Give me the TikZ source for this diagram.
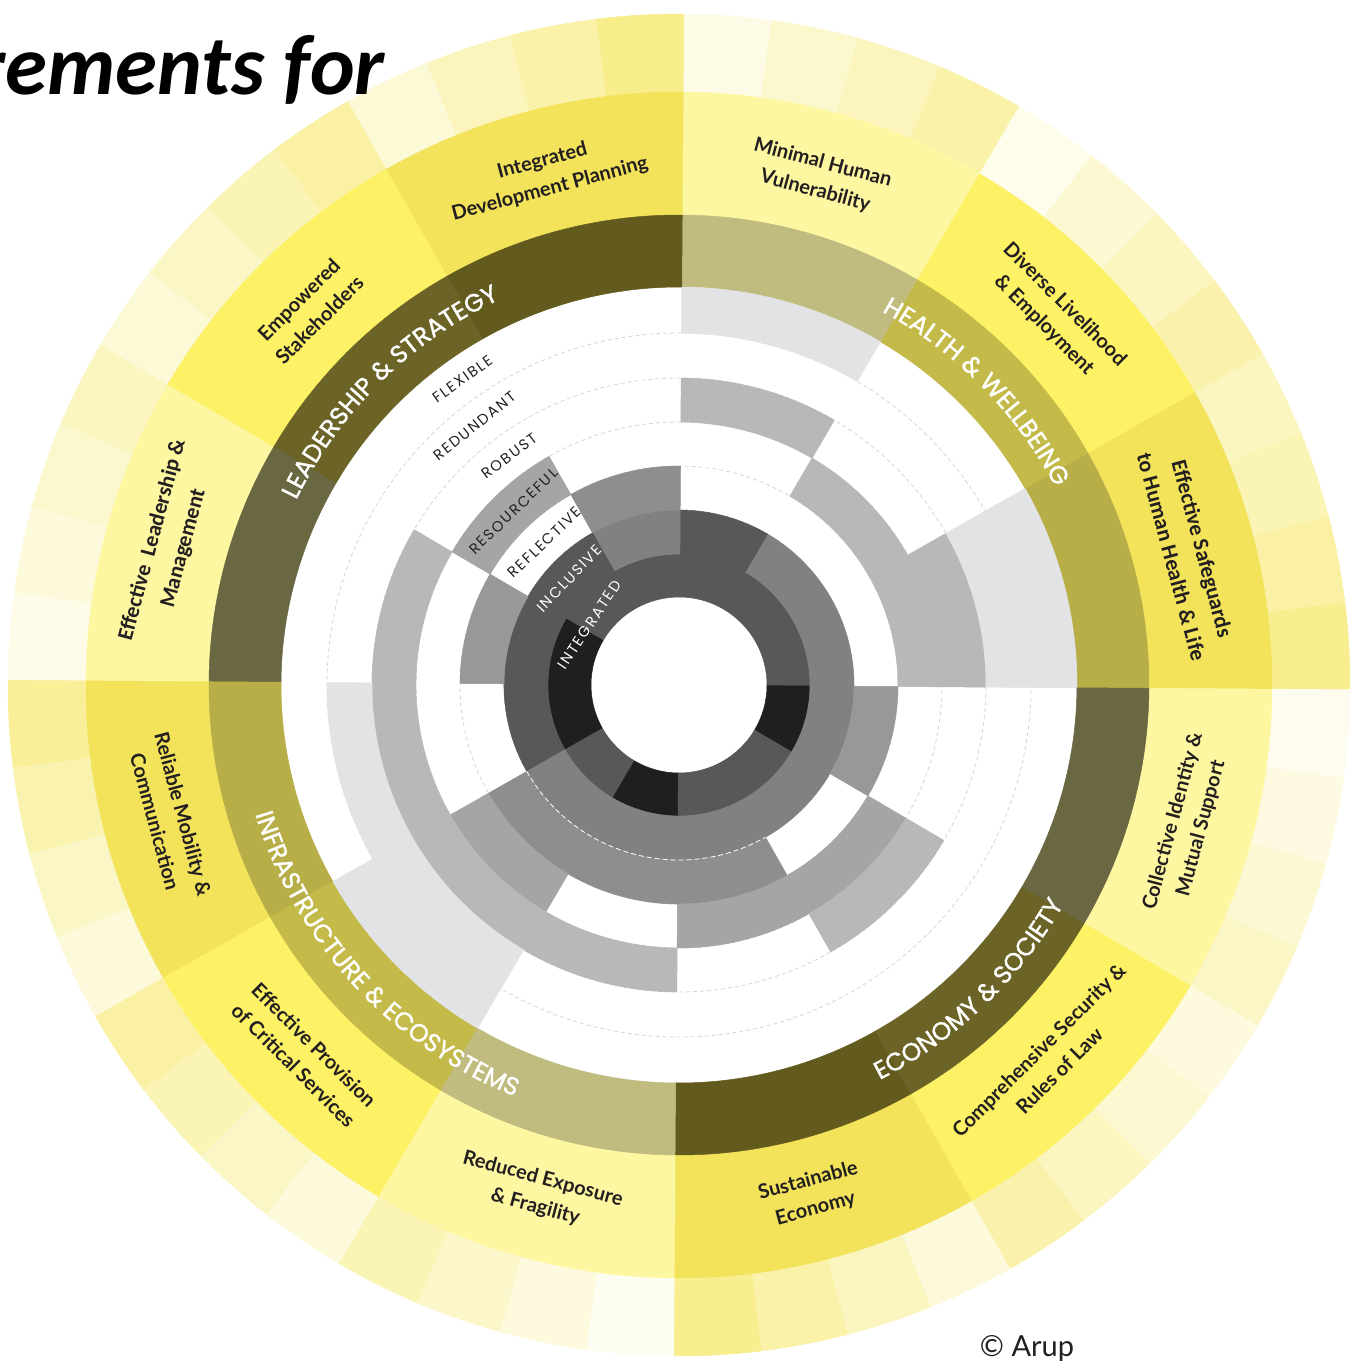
\documentclass[tikz,border=0pt]{standalone}
\usepackage{fontspec}
\setmainfont{Lato}
\newfontfamily\carl{Carlito}
\newfontfamily\pop{Poppins}
\newfontfamily\popb{Poppins}[FakeBold=1.2]
\usetikzlibrary{decorations.text}
\definecolor{txt}{HTML}{231F20}
\definecolor{oy}{HTML}{F5E65A}
\definecolor{gmed}{HTML}{F2E35B}
\definecolor{gbri}{HTML}{FDF165}
\definecolor{gpal}{HTML}{FDF7A1}
\definecolor{dA}{HTML}{635A1E}
\definecolor{dB}{HTML}{6B6426}
\definecolor{dC}{HTML}{6A6843}
\definecolor{hA}{HTML}{C0BC80}
\definecolor{hB}{HTML}{C4BA4A}
\definecolor{hC}{HTML}{B8AE48}
\definecolor{qK}{HTML}{1F1F21}
\definecolor{qD}{HTML}{58585A}
\definecolor{qM}{HTML}{818183}
\definecolor{qG}{HTML}{8E8E90}
\definecolor{qH}{HTML}{98989A}
\definecolor{qA}{HTML}{A5A5A7}
\definecolor{qB}{HTML}{B8B8BA}
\definecolor{qL}{HTML}{E2E3E5}
\definecolor{qdash}{HTML}{D6D6D8}
\newcommand\annseg[5]{\path[fill=#5,draw=#5,line width=0.5pt] (#1:#3) arc[start angle=#1,end angle=#2,radius=#3] -- (#2:#4) arc[start angle=#2,end angle=#1,radius=#4] -- cycle;}
\newcommand\dimfont{\color{white}\popb\fontsize{25}{25}\selectfont}
\tikzset{
  goal/.style={align=center,text=txt,inner sep=0pt,font=\bfseries\fontsize{20}{29}\selectfont},
  goalc/.style={align=center,text=txt,inner sep=0pt,font=\carl\bfseries\fontsize{22}{32}\selectfont},
  qual/.style={inner sep=0pt,text=txt,font=\pop\fontsize{14.8}{14.8}\selectfont\addfontfeature{LetterSpace=12}},
  qualw/.style={qual,text=white},
  dimtext/.style={decorate,decoration={text along path,text align=center,text={#1}}}
}
\begin{document}
\begin{tikzpicture}[x=1pt,y=1pt]
\useasboundingbox (-679,-684) rectangle (691,685);
\fill[white] (-679,-684) rectangle (691,685);
\begin{scope}[rotate=-0.4]
% outer indicator ring
\foreach \a/\p in {0/68,7.5/55,15/45,22.5/38,
  30/50,37.5/38,45/28,52.5/12,
  60/52,67.5/40,75/30,82.5/16,
  90/70,97.5/52,105/40,112.5/25,
  120/55,127.5/45,135/35,142.5/25,
  150/38,157.5/30,165/22,172.5/14,
  180/62,187.5/48,195/35,202.5/22,
  210/55,217.5/45,225/35,232.5/22,
  240/45,247.5/32,255/20,262.5/8,
  270/68,277.5/52,285/38,292.5/22,
  300/50,307.5/38,315/28,322.5/20,
  330/35,337.5/26,345/18,352.5/10}
  {\pgfmathsetmacro\b{\a+7.5}\annseg{\a}{\b}{593}{671}{oy!\p!white}}
% goal ring
\foreach \a/\c in {0/gmed,30/gbri,60/gpal,90/gmed,120/gbri,150/gpal,
  180/gmed,210/gbri,240/gpal,270/gmed,300/gbri,330/gpal}
  {\pgfmathsetmacro\b{\a+30}\annseg{\a}{\b}{470}{593}{\c}}
% dimension ring
\foreach \a/\c in {0/hC,30/hB,60/hA,90/dA,120/dB,150/dC,
  180/hC,210/hB,240/hA,270/dA,300/dB,330/dC}
  {\pgfmathsetmacro\b{\a+30}\annseg{\a}{\b}{398}{470}{\c}}
% dashed guide circles
\foreach \r in {131,175,219,263,307,352}
  \draw[qdash,line width=0.8pt,dash pattern=on 4pt off 3pt] (0,0) circle[radius=\r];
% quality rings
\foreach \a/\b/\ri/\ro/\c in {
  0/150/88/131/qD,150/210/88/131/qK,210/240/88/131/qD,240/270/88/131/qK,270/330/88/131/qD,330/360/88/131/qK,
  0/60/131/175/qM,60/90/131/175/qD,90/120/131/175/qM,120/210/131/175/qD,210/360/131/175/qM,
  90/120/175/219/qG,150/180/175/219/qH,210/300/175/219/qG,330/360/175/219/qH,
  0/60/219/263/qB,120/150/219/263/qA,210/240/219/263/qA,270/330/219/263/qA,
  0/30/263/307/qB,60/90/263/307/qB,150/270/263/307/qB,300/330/263/307/qB,
  0/30/307/352/qL,180/240/307/352/qL,
  0/30/352/398/qL,60/90/352/398/qL,210/240/352/398/qL}
  {\annseg{\a}{\b}{\ri}{\ro}{\c}}
% white dashed separation between ring 2 and ring 3 on the grey band
\draw[white,line width=0.8pt,dash pattern=on 5pt off 3pt] (210:175) arc[start angle=210,end angle=300,radius=175];
% dimension labels
\path[dimtext={|\dimfont|LEADERSHIP {\&} STRATEGY}] (170:425) arc[start angle=170,end angle=100,radius=425];
\path[dimtext={|\dimfont|HEALTH {\&} WELLBEING}] (80:425) arc[start angle=80,end angle=10,radius=425];
\path[dimtext={|\dimfont|INFRASTRUCTURE {\&} ECOSYSTEMS}] (185:443) arc[start angle=185,end angle=261,radius=443];
\path[dimtext={|\dimfont|ECONOMY {\&} SOCIETY}] (279:443) arc[start angle=279,end angle=349,radius=443];
% goal labels
\node[goalc,rotate=-75] (g1) at (15:525) {Effective Safeguards\\to Human Health \& Life};
\node[goal,rotate=-45] (g2) at (45:527) {Diverse Livelihood\\\& Employment};
\node[goal,rotate=-15] (g3) at (75:527) {Minimal Human\\Vulnerability};
\node[goal,rotate=15] (g4) at (105:527) {Integrated\\Development Planning};
\node[goal,rotate=45] (g5) at (135:527) {Empowered\\Stakeholders};
\node[goalc,rotate=75] (g6) at (165:530) {Effective\ \ Leadership \&\\Management};
\node[goal,rotate=-75] (g7) at (195:527) {Reliable Mobility \&\\Communication};
\node[goal,rotate=-45] (g8) at (225:527) {Effective Provision\\of Critical Services};
\node[goal,rotate=-15] (g9) at (255:527) {Reduced Exposure\\\& Fragility};
\node[goal,rotate=15] (g10) at (285:527) {Sustainable\\Economy};
\node[goal,rotate=45] (g11) at (315:527) {Comprehensive Security \&\\Rules of Law};
\node[goal,rotate=75] (g12) at (345:527) {Collective Identity \&\\Mutual Support};
% quality labels
\node[qual,rotate=35.7] (qflex) at (125.7:375) {FLEXIBLE};
\node[qual,rotate=38.7] (qred) at (128.7:330) {REDUNDANT};
\node[qual,rotate=37] (qrob) at (127:285) {ROBUST};
\node[qual,rotate=44] (qres) at (134:240) {RESOURCEFUL};
\node[qual,rotate=43.7] (qref) at (133.7:196) {REFLECTIVE};
\node[qualw,rotate=46.3] (qinc) at (136.3:153) {INCLUSIVE};
\node[qualw,rotate=56.5] (qint) at (146.5:108) {INTEGRATED};
\end{scope}
% title fragment and credit
\node[anchor=base east,inner sep=0pt,text=black,font=\carl\bfseries\itshape\fontsize{85}{85}\selectfont] (title) at (-294,590) {rements for};
\node[inner sep=0pt,text=txt,font=\fontsize{29}{29}\selectfont] (credit) at (348,-663) {© Arup};
\end{tikzpicture}
\end{document}
